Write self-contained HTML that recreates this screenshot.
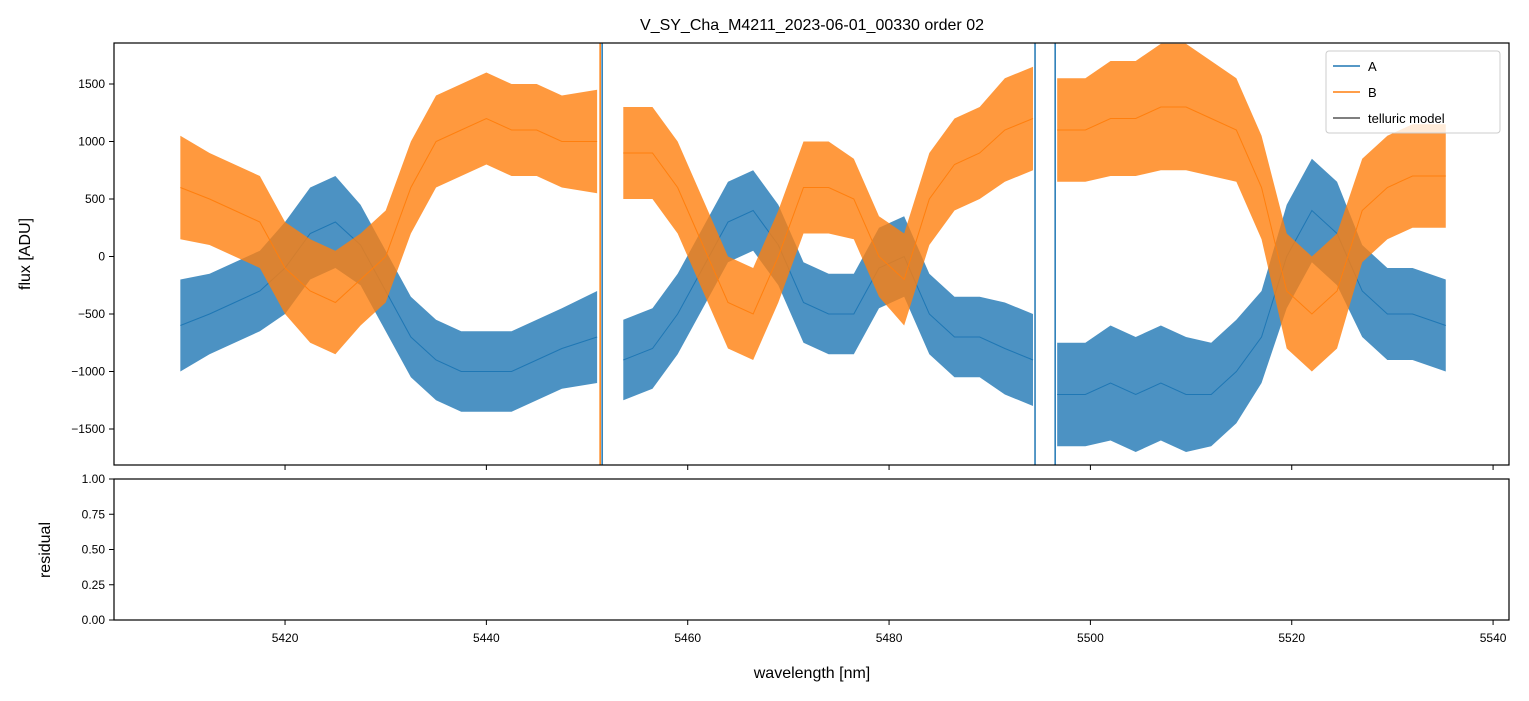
<!DOCTYPE html>
<html><head><meta charset="utf-8"><style>
body{margin:0;background:#fff;font-family:"Liberation Sans",sans-serif}
svg text{font-family:"Liberation Sans",sans-serif}
</style></head><body>
<svg id="c" width="1529" height="696" xmlns="http://www.w3.org/2000/svg">
<rect width="1529" height="696" fill="#fff"/>
<text x="812" y="30" font-size="16" text-anchor="middle">V_SY_Cha_M4211_2023-06-01_00330  order 02</text>
<defs><clipPath id="cp"><rect x="114" y="43" width="1395" height="422"/></clipPath></defs>
<g id="marks" clip-path="url(#cp)"></g>
<rect x="114" y="43" width="1395" height="422" fill="none" stroke="#000" stroke-width="1.2"/>
<rect x="114" y="479" width="1395" height="141" fill="none" stroke="#000" stroke-width="1.2"/>
<g id="axes"></g>
<text x="30" y="254" font-size="16" text-anchor="middle" transform="rotate(-90 30 254)">flux [ADU]</text>
<text x="50" y="550" font-size="16" text-anchor="middle" transform="rotate(-90 50 550)">residual</text>
<text x="812" y="678" font-size="16" text-anchor="middle">wavelength [nm]</text>
<g>
<rect x="1326" y="51" width="174" height="82" fill="#fff" fill-opacity="0.8" stroke="#ccc" rx="3"/>
<line x1="1333" y1="66" x2="1360" y2="66" stroke="#1f77b4" stroke-width="1.5"/>
<text x="1368" y="71" font-size="13">A</text>
<line x1="1333" y1="92" x2="1360" y2="92" stroke="#ff7f0e" stroke-width="1.5"/>
<text x="1368" y="97" font-size="13">B</text>
<line x1="1333" y1="118" x2="1360" y2="118" stroke="#555" stroke-width="1.5"/>
<text x="1368" y="123" font-size="13">telluric model</text>
</g>
</svg>
<script>
const wl=[5409.6,5412.5,5415,5417.5,5420,5422.5,5425,5427.5,5430,5432.5,5435,5437.5,5440,5442.5,5445,5447.5,5451,null,5453.6,5456.5,5459,5461.5,5464,5466.5,5469,5471.5,5474,5476.5,5479,5481.5,5484,5486.5,5489,5491.5,5494.3,null,5496.7,5499.5,5502,5504.5,5507,5509.5,5512,5514.5,5517,5519.5,5522,5524.5,5527,5529.5,5532,5535.3];
const aMid=[-600,-500,-400,-300,-100,200,300,100,-300,-700,-900,-1000,-1000,-1000,-900,-800,-700,null,-900,-800,-500,-100,300,400,100,-400,-500,-500,-100,0,-500,-700,-700,-800,-900,null,-1200,-1200,-1100,-1200,-1100,-1200,-1200,-1000,-700,0,400,200,-300,-500,-500,-600];
const aSpread=[400,350,350,350,400,400,400,350,350,350,350,350,350,350,350,350,400,null,350,350,350,350,350,350,350,350,350,350,350,350,350,350,350,400,400,null,450,450,500,500,500,500,450,450,400,450,450,450,400,400,400,400];
const bMid=[600,500,400,300,-100,-300,-400,-200,0,600,1000,1100,1200,1100,1100,1000,1000,null,900,900,600,100,-400,-500,0,600,600,500,0,-200,500,800,900,1100,1200,null,1100,1100,1200,1200,1300,1300,1200,1100,600,-300,-500,-300,400,600,700,700];
const bSpread=[450,400,400,400,400,450,450,400,400,400,400,400,400,400,400,400,450,null,400,400,400,400,400,400,400,400,400,350,350,400,400,400,400,450,450,null,450,450,500,500,550,550,500,450,450,500,500,500,450,450,450,450];
const spikesA=[5451.5,5494.5,5496.5];
const spikesB=[5451.5];
const xTicks=[5420,5440,5460,5480,5500,5520,5540];
const yTicks=[-1500,-1000,-500,0,500,1000,1500];
const rTicks=[0,0.25,0.5,0.75,1];
const X=w=>83.7+(w-5400)*10.067;
const Y=v=>256.5-v*0.115;
const R=v=>620-v*141;
const NS="http://www.w3.org/2000/svg";
const marks=document.getElementById('marks'),axes=document.getElementById('axes');
function mk(t,a,p){const e=document.createElementNS(NS,t);for(const k in a)e.setAttribute(k,a[k]);p.appendChild(e);return e;}
function segs(){const out=[];let cur=[];wl.forEach((w,i)=>{if(w===null){if(cur.length)out.push(cur);cur=[];}else cur.push(i);});if(cur.length)out.push(cur);return out;}
function band(mid,spr,col,name){
 segs().forEach(s=>{
  let up=s.map(i=>X(wl[i])+','+Y(mid[i]+spr[i])).join(' ');
  let dn=s.slice().reverse().map(i=>X(wl[i])+','+Y(mid[i]-spr[i])).join(' ');
  const p=mk('polygon',{points:up+' '+dn,fill:col,'fill-opacity':0.8},marks);
  
  
  const l=mk('polyline',{points:s.map(i=>X(wl[i])+','+Y(mid[i])).join(' '),fill:'none',stroke:col,'stroke-width':1},marks);
  
  
 });
}
band(aMid,aSpread,'#1f77b4','series-a-band');
band(bMid,bSpread,'#ff7f0e','series-b-band');
spikesA.forEach(w=>{const l=mk('line',{x1:X(w),x2:X(w),y1:40,y2:470,stroke:'#1f77b4','stroke-width':1.5},marks);
 
 });
spikesB.forEach(w=>{const l=mk('line',{x1:X(w)-2,x2:X(w)-2,y1:40,y2:470,stroke:'#ff7f0e','stroke-width':1.5},marks);
 
 });
xTicks.forEach(t=>{const x=X(t);
 mk('line',{x1:x,x2:x,y1:465,y2:470,stroke:'#000'},axes);
 mk('line',{x1:x,x2:x,y1:620,y2:625,stroke:'#000'},axes);
 const tx=mk('text',{x:x,y:642,'font-size':12,'text-anchor':'middle'},axes);tx.textContent=t;
 
 });
yTicks.forEach(t=>{const y=Y(t);
 mk('line',{x1:109,x2:114,y1:y,y2:y,stroke:'#000'},axes);
 const tx=mk('text',{x:105,y:y+4,'font-size':12,'text-anchor':'end'},axes);tx.textContent=t<0?'\u2212'+(-t):t;
 
 });
rTicks.forEach(t=>{const y=R(t);
 mk('line',{x1:109,x2:114,y1:y,y2:y,stroke:'#000'},axes);
 const tx=mk('text',{x:105,y:y+4,'font-size':12,'text-anchor':'end'},axes);tx.textContent=t.toFixed(2);
 
 });
</script>
</body></html>
